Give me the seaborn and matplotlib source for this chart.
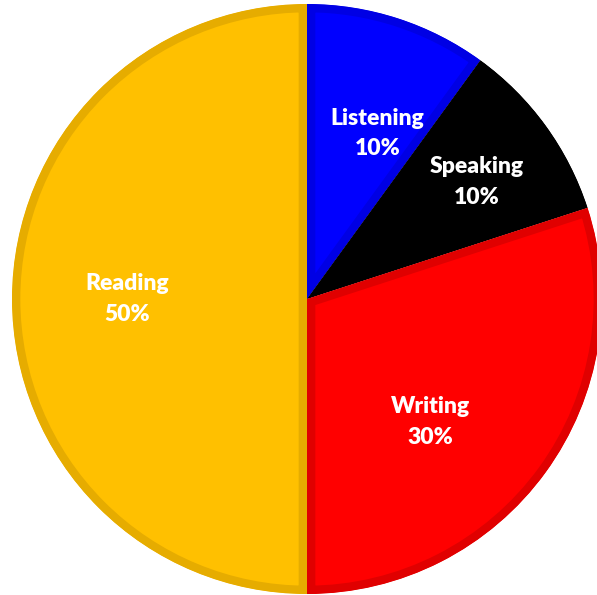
import numpy as np
import matplotlib
matplotlib.use("Agg")
import matplotlib.pyplot as plt
import seaborn as sns

categories = ["Listening", "Speaking", "Writing", "Reading"]
values = [10, 10, 30, 50]

fill_colors = ["#0000FF", "#000000", "#FF0000", "#FFC000"]
edge_colors = ["#0000E4", "#000000", "#E00000", "#E6AC00"]
label_dist = [0.61, 0.70, 0.59, 0.61]
label_angle_offset = [-5.0, -1.5, -9.0, 0.0]

sns.set_theme(style="white")
plt.rcParams['font.family'] = ['Lato', 'DejaVu Sans']

fig = plt.figure(figsize=(5.97, 5.95), dpi=100)
ax = fig.add_axes([12 / 597, 1 / 595, 590 / 597, 590 / 595])

labels = [f"{c}\n{v}%" for c, v in zip(categories, values)]
wedges, texts = ax.pie(values, labels=labels, colors=fill_colors, startangle=90,
                       counterclock=False, labeldistance=0.62,
                       wedgeprops=dict(linewidth=12, edgecolor="none"),
                       textprops=dict(color="white", fontweight="heavy", fontsize=16.5,
                                      ha="center", va="center", linespacing=1.55))
for w, ec in zip(wedges, edge_colors):
    w.set_edgecolor(ec)
    w.set_clip_on(True)
    w.set_clip_path(w)
    w.set_joinstyle("miter")

for w, t, d, off in zip(wedges, texts, label_dist, label_angle_offset):
    mid = np.deg2rad((w.theta1 + w.theta2) / 2 + off)
    t.set_position((d * np.cos(mid), d * np.sin(mid)))
    t.set_ha("center")
    t.set_va("center")

ax.set_xlim(-1, 1)
ax.set_ylim(-1, 1)
ax.set_aspect("equal")
ax.axis("off")
fig.savefig("out.png", dpi=100, facecolor="white")
